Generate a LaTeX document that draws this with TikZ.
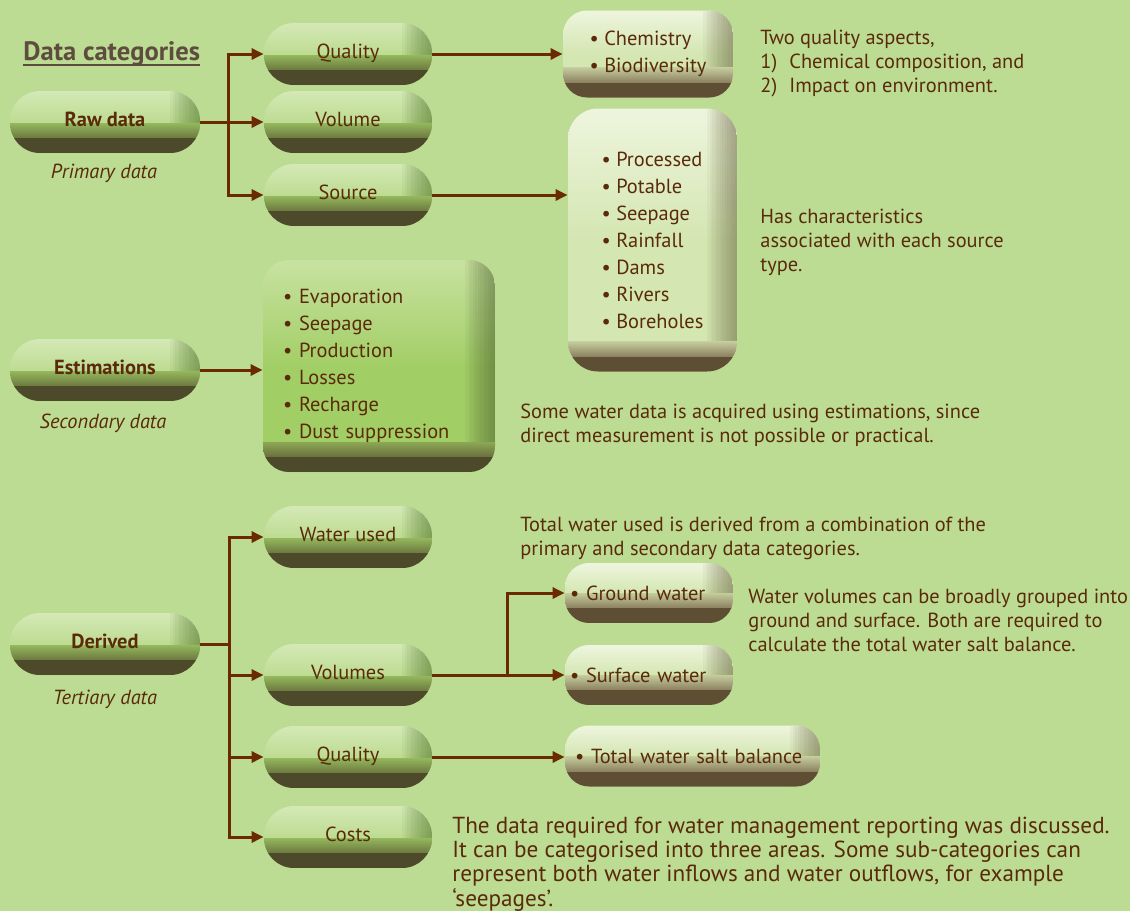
\documentclass[tikz,border=0pt]{standalone}
\usepackage{fontspec}
\setmainfont{PT Sans}
\usepackage{tikz}
\usetikzlibrary{arrows.meta, positioning, calc}
\definecolor{bgGreen}{HTML}{BCDC94}
\definecolor{ink}{HTML}{5A2A0A}
\definecolor{titleInk}{HTML}{5E4C3E}
\definecolor{arrowBrown}{HTML}{6B2A02}
\definecolor{pillTop}{HTML}{D4E9B6}
\definecolor{pillBody}{HTML}{A8CE6E}
\definecolor{pillRim}{HTML}{3E6418}
\definecolor{pillBand}{HTML}{94B85C}
\definecolor{pillLow}{HTML}{6C7840}
\definecolor{pillDark}{HTML}{4D492B}
\definecolor{paleTop}{HTML}{EEF5DE}
\definecolor{paleBody}{HTML}{D4E6B2}
\definecolor{paleRim}{HTML}{5E5634}
\definecolor{paleBand}{HTML}{C4CC9C}
\definecolor{paleLow}{HTML}{8C8060}
\definecolor{paleDark}{HTML}{5E4E34}
\definecolor{estTop}{HTML}{C8E2A0}
\definecolor{estBody}{HTML}{A2CE66}
\definecolor{estRim}{HTML}{44542A}
\definecolor{estBand}{HTML}{8CA856}
\definecolor{estLow}{HTML}{6A6E3C}
\definecolor{estDark}{HTML}{4C4A2A}

\newcommand{\bodyfont}{\fontsize{10.2}{12}\selectfont}
\newcommand{\listfont}{\fontsize{10.2}{13.5}\selectfont}
\newcommand{\sumfont}{\fontsize{11.6}{12.1}\selectfont}

% right rim and bottom band of the 3d boxes
\newcommand{\boxrims}[4]{%
  \foreach \k in {1,...,12}
    \fill[#1, opacity=0.05, sharp corners] ([xshift=-\k*1.25pt]path picture bounding box.north east) rectangle (path picture bounding box.south east);
  \shade[top color=#2, bottom color=#3, sharp corners] ([yshift=15pt]path picture bounding box.south west) rectangle ([yshift=7.5pt]path picture bounding box.south east);
  \fill[#4, sharp corners] (path picture bounding box.south west) rectangle ([yshift=7.5pt]path picture bounding box.south east);
}

\begin{document}
\begin{tikzpicture}[
    x=0.5pt, y=-0.5pt,
    every node/.style={text=ink, font=\bodyfont},
    pill/.style={
        rectangle, rounded corners=15pt,
        minimum width=84pt, minimum height=31pt,
        text height=7pt, text depth=3pt,
        top color=pillTop, bottom color=pillBody,
        path picture={\boxrims{pillRim}{pillBand}{pillLow}{pillDark}}
    },
    mainpill/.style={pill, minimum width=95pt, font=\bodyfont\bfseries},
    listbox/.style={
        rectangle, rounded corners=12pt, align=left, font=\listfont,
        top color=paleTop, bottom color=paleBody, middle color=paleBody,
        path picture={\boxrims{paleRim}{paleBand}{paleLow}{paleDark}}
    },
    greenlist/.style={
        listbox, top color=estTop, bottom color=estBody, middle color=estBody,
        path picture={\boxrims{estRim}{estBand}{estLow}{estDark}}
    },
    sublabel/.style={font=\bodyfont\itshape},
    note/.style={anchor=west, inner sep=0pt, align=left},
    trunk/.style={draw=arrowBrown, line width=1.5pt},
    arrow/.style={trunk, -{Triangle[length=6pt, width=5.5pt]}}
]

\fill[bgGreen] (0,0) rectangle (1130,911);

\node[anchor=west, inner sep=0pt, text=titleInk, font=\fontsize{13.3}{15}\selectfont\bfseries] (title) at (23,53.5) {Data categories};
\draw[titleInk, line width=1pt] ([yshift=0.5pt]title.south west) -- ([yshift=0.5pt]title.south east);

% raw data
\node[mainpill] (raw) at (105,122) {Raw data};
\node[sublabel] (primary) at (104,173) {Primary data};
\node[pill] (quality) at (348,54) {Quality};
\node[pill] (volume) at (348,122) {Volume};
\node[pill] (source) at (348,195) {Source};
\node[listbox, minimum width=85pt, minimum height=43.5pt] (chem) at (648,54)
    {\textbullet~Chemistry\\\textbullet~Biodiversity};
\node[listbox, rounded corners=15pt, minimum width=84.5pt, minimum height=131.5pt] (srclist) at (652.5,240)
    {\textbullet~Processed\\\textbullet~Potable\\\textbullet~Seepage\\\textbullet~Rainfall\\\textbullet~Dams\\\textbullet~Rivers\\\textbullet~Boreholes};

\node[note] (aspects) at (760,63.5) {Two quality aspects,\\\makebox[14.5pt][l]{1)}Chemical composition, and\\\makebox[14.5pt][l]{2)}Impact on environment.};
\node[note] (charnote) at (760,242) {Has characteristics\\associated with each source\\type.};

% estimations
\node[mainpill] (estim) at (105,370) {Estimations};
\node[sublabel] (secondary) at (103,423) {Secondary data};
\node[greenlist, rounded corners=13pt, text width=96pt, minimum width=116pt, minimum height=106pt] (estlist) at (379,366)
    {\textbullet~Evaporation\\\textbullet~Seepage\\\textbullet~Production\\\textbullet~Losses\\\textbullet~Recharge\\\textbullet~Dust suppression};
\node[note] (estnote) at (520,425) {Some water data is acquired using estimations, since\\direct measurement is not possible or practical.};

% derived
\node[mainpill] (derived) at (105,644) {Derived};
\node[sublabel] (tertiary) at (105,699) {Tertiary data};
\node[pill] (wused) at (348,537) {Water used};
\node[pill] (volumes) at (348,675) {Volumes};
\node[pill] (qual2) at (348,757) {Quality};
\node[pill] (costs) at (348,837) {Costs};
\node[listbox, inner xsep=0pt, text width=79pt, minimum width=84pt, minimum height=30pt] (ground) at (649,593) {\textbullet~Ground water};
\node[listbox, inner xsep=0pt, text width=79pt, minimum width=84pt, minimum height=30pt] (surface) at (649,675) {\textbullet~Surface water};
\node[listbox, inner xsep=0pt, text width=117.5pt, minimum width=127.5pt, minimum height=30.5pt] (salt) at (692.5,756) {\textbullet~Total water salt balance};

\node[note] (usednote) at (520,538) {Total water used is derived from a combination of the\\primary and secondary data categories.};
\node[note] (volnote) at (748,620) {Water volumes can be broadly grouped into\\ground and surface. Both are required to\\calculate the total water salt balance.};
\node[note, font=\sumfont] (summary) at (452,864) {The data required for water management reporting was discussed.\\It can be categorised into three areas. Some sub-categories can\\represent both water inflows and water outflows, for example\\‘seepages’.};

% connectors
\coordinate (jraw) at (228,122);
\draw[trunk] (raw.east) -- (jraw);
\foreach \n in {quality,volume,source}
    \draw[arrow] (jraw) |- (\n.west);
\draw[arrow] (quality.east) -- (quality.east -| chem.west);
\draw[arrow] (source.east) -- (source.east -| srclist.west);
\draw[arrow] (estim.east) -- (estim.east -| estlist.west);

\coordinate (jder) at (229,644);
\draw[trunk] (derived.east) -- (jder);
\foreach \n in {wused,volumes,qual2,costs}
    \draw[arrow] (jder) |- (\n.west);
\coordinate (jvol) at (507,675);
\draw[trunk] (volumes.east) -- (jvol);
\foreach \n in {ground,surface}
    \draw[arrow] (jvol) |- (\n.west);
\draw[arrow] (qual2.east) -- (qual2.east -| salt.west);

\end{tikzpicture}
\end{document}
